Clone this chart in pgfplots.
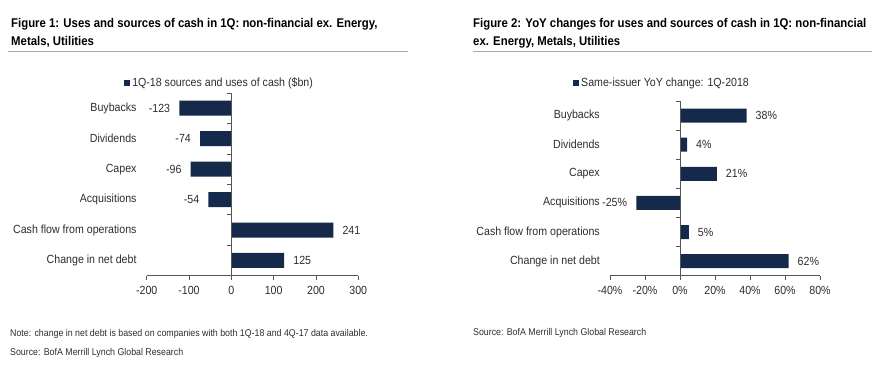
\documentclass[border=0pt]{standalone}
\usepackage{pgfplots}
\pgfplotsset{compat=1.18}
\usepackage{fontspec}
\setmainfont[FakeStretch=0.9]{Liberation Sans}
\definecolor{navy}{HTML}{15294A}
\definecolor{txt}{HTML}{2E2E2E}
\definecolor{axc}{HTML}{555555}
\definecolor{rulec}{HTML}{A8A8A8}
\begin{document}
\begin{tikzpicture}[x=1pt,y=1pt]
\path[use as bounding box, fill=white] (0pt,0pt) rectangle (890pt,382pt);
\pgfplotsset{
 mybar/.style={
  scale only axis, xbar, y dir=reverse, ymin=-0.5, ymax=5.5,
  ytick={0,...,5},
  yticklabels={Buybacks,Dividends,Capex,Acquisitions,Cash flow from operations,Change in net debt},
  axis x line*=bottom, axis y line*=left,
  y axis line style={draw=none}, ytick style={draw=none},
  x axis line style={draw=axc, line width=0.8pt, -},
  xtick style={draw=axc, line width=0.8pt},
  tick align=outside, major tick length=4pt,
  /pgf/number format/assume math mode=true,
  tick label style={font=\fontsize{11.8}{13}\selectfont, text=txt},
  yticklabel style={inner xsep=0pt, xshift=-6pt},
  xticklabel style={yshift=-3pt},
  point meta=x,
  nodes near coords style={font=\fontsize{11.8}{13}\selectfont, text=txt, inner xsep=9pt},
  legend image code/.code={\fill[navy] (0pt,-3pt) rectangle (6pt,3pt);},
  legend style={draw=none, fill=none, inner sep=0pt, font=\fontsize{11.8}{13}\selectfont, text=txt},
 }
}
\begin{axis}[mybar, at={(146.7pt,106.3pt)}, anchor=south west,
  width=211.6pt, height=182.7pt, bar width=15pt,
  xmin=-200, xmax=300, xtick={-200,-100,...,300},
  nodes near coords={\pgfmathprintnumber{\pgfplotspointmeta}},
  legend style={at={(axis description cs:-0.107,1.055)}, anchor=west}]
\addplot[fill=navy, draw=none] coordinates {(-123,0) (-74,1) (-96,2) (-54,3) (241,4) (125,5)};
\addlegendentry{1Q-18 sources and uses of cash (\$bn)}
\draw[axc, line width=0.8pt] (axis cs:0,-0.5) -- (axis cs:0,5.5);
\draw[axc, line width=0.8pt] (axis cs:0,-0.5) -- ++(-4pt,0pt);
\draw[axc, line width=0.8pt] (axis cs:0,0.5) -- ++(-4pt,0pt);
\draw[axc, line width=0.8pt] (axis cs:0,1.5) -- ++(-4pt,0pt);
\draw[axc, line width=0.8pt] (axis cs:0,2.5) -- ++(-4pt,0pt);
\draw[axc, line width=0.8pt] (axis cs:0,3.5) -- ++(-4pt,0pt);
\draw[axc, line width=0.8pt] (axis cs:0,4.5) -- ++(-4pt,0pt);
\end{axis}
\begin{axis}[mybar, at={(610pt,106.3pt)}, anchor=south west,
  width=210pt, height=174.7pt, bar width=14pt,
  xmin=-40, xmax=80, xtick={-40,-20,...,80},
  xticklabel={\pgfmathprintnumber{\tick}\%},
  nodes near coords={\pgfmathprintnumber{\pgfplotspointmeta}\%},
  legend style={at={(axis description cs:-0.176,1.103)}, anchor=west}]
\addplot[fill=navy, draw=none] coordinates {(38,0) (4,1) (21,2) (-25,3) (5,4) (62,5)};
\addlegendentry{Same-issuer YoY change: 1Q-2018}
\draw[axc, line width=0.8pt] (axis cs:0,-0.5) -- (axis cs:0,5.5);
\draw[axc, line width=0.8pt] (axis cs:0,-0.5) -- ++(-4pt,0pt);
\draw[axc, line width=0.8pt] (axis cs:0,0.5) -- ++(-4pt,0pt);
\draw[axc, line width=0.8pt] (axis cs:0,1.5) -- ++(-4pt,0pt);
\draw[axc, line width=0.8pt] (axis cs:0,2.5) -- ++(-4pt,0pt);
\draw[axc, line width=0.8pt] (axis cs:0,3.5) -- ++(-4pt,0pt);
\draw[axc, line width=0.8pt] (axis cs:0,4.5) -- ++(-4pt,0pt);
\end{axis}
% titles
\begin{scope}[every node/.style={inner sep=0pt, text=black, font=\bfseries\fontsize{12.65}{14}\selectfont}]
\node[anchor=base west] at (11pt,354.5pt) {Figure 1: Uses and sources of cash in 1Q: non-financial ex. Energy,};
\node[anchor=base west] at (11pt,336.5pt) {Metals, Utilities};
\node[anchor=base west] at (473pt,354.5pt) {Figure 2: YoY changes for uses and sources of cash in 1Q: non-financial};
\node[anchor=base west] at (473pt,336.5pt) {ex. Energy, Metals, Utilities};
\end{scope}
\draw[rulec, line width=1pt] (8pt,330pt) -- (408pt,330pt);
\draw[rulec, line width=1pt] (473pt,330pt) -- (872pt,330pt);
% notes
\begin{scope}[every node/.style={inner sep=0pt, text=txt, font=\fontsize{9.8}{11}\selectfont}]
\node[anchor=base west] at (10pt,45pt) {Note: change in net debt is based on companies with both 1Q-18 and 4Q-17 data available.};
\node[anchor=base west] at (10pt,26pt) {Source: BofA Merrill Lynch Global Research};
\node[anchor=base west] at (473pt,46pt) {Source: BofA Merrill Lynch Global Research};
\end{scope}
\end{tikzpicture}
\end{document}
